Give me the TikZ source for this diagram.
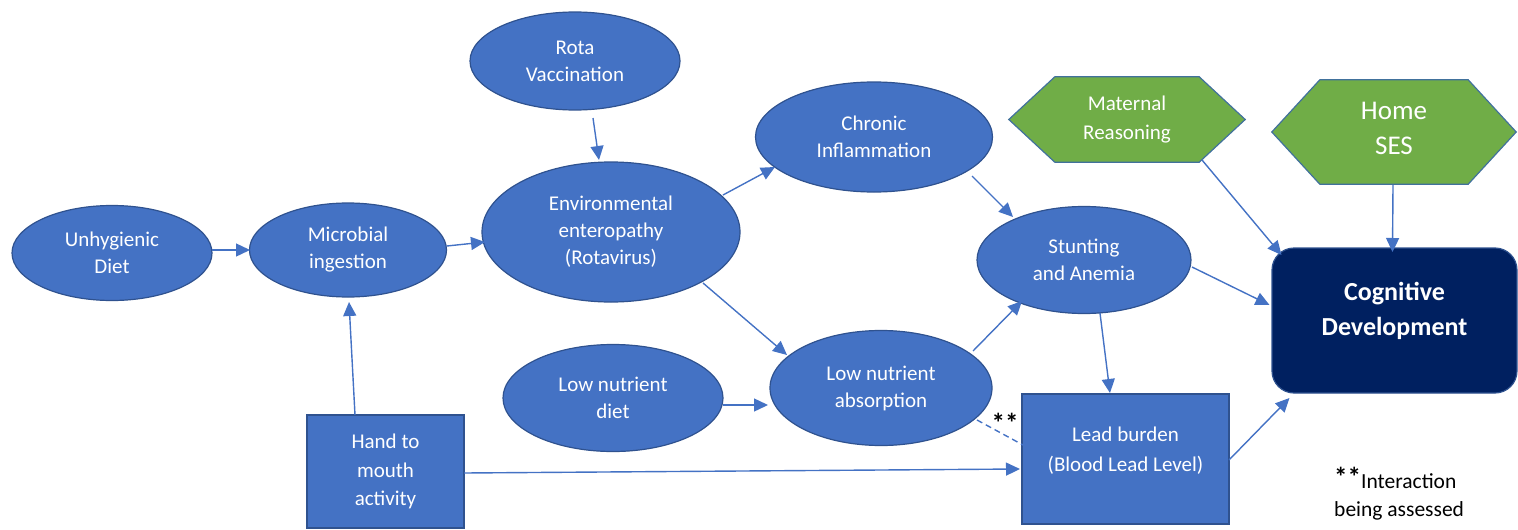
\documentclass[tikz,border=0pt]{standalone}
\usepackage{fontspec}
\setmainfont{Carlito}
\usetikzlibrary{shapes.geometric,arrows.meta,calc,backgrounds}
\definecolor{eblue}{HTML}{4472C4}
\definecolor{eborder}{HTML}{2F528F}
\definecolor{hgreen}{HTML}{70AD47}
\definecolor{hborder}{HTML}{41719C}
\definecolor{navy}{HTML}{002060}
\definecolor{lineblue}{HTML}{4472C4}
\begin{document}
\begin{tikzpicture}[x=1pt,y=-1pt,
  ell/.style={ellipse, draw=eborder, line width=1.2pt, fill=eblue, text=white,
    inner sep=0pt, align=center, font=\fontsize{21}{27}\selectfont},
  boxnode/.style={rectangle, draw=eborder, line width=2.2pt, fill=eblue, text=white,
    inner sep=0pt, align=center, font=\fontsize{21}{28.5}\selectfont},
  hextext/.style={rectangle, inner sep=0pt, text=white, align=center},
  hexfill/.style={fill=hgreen, draw=hborder, line width=1.2pt},
  arr/.style={draw=lineblue, line width=1.4pt, -{Triangle[length=14pt,width=13pt]}},
  dashline/.style={draw=lineblue, line width=1.4pt, dash pattern=on 6pt off 4pt},
  plain/.style={inner sep=0pt, text=black}
]
\useasboundingbox (0,0) rectangle (1518,530);

% ellipses
\node[ell, minimum width=200pt, minimum height=95pt] (unh) at (112,253) {Unhygienic\\Diet};
\node[ell, minimum width=197pt, minimum height=94pt] (mic) at (348,250) {Microbial\\ingestion};
\node[ell, minimum width=210pt, minimum height=98pt] (rota) at (575,61) {Rota\\Vaccination};
\node[ell, minimum width=258pt, minimum height=140pt] (env) at (611,232) {Environmental\\enteropathy\\(Rotavirus)};
\node[ell, minimum width=237pt, minimum height=110pt] (chr) at (874,137) {Chronic\\Inflammation};
\node[ell, minimum width=214pt, minimum height=107pt] (stu) at (1084,260) {Stunting\\and Anemia};
\node[ell, minimum width=220pt, minimum height=107pt] (lnd) at (613,398) {Low nutrient\\diet};
\node[ell, minimum width=222pt, minimum height=115pt] (lna) at (881,388) {Low nutrient\\absorption};

% boxes
\node[boxnode, minimum width=157pt, minimum height=113pt] (hand) at (385.5,471.5) {Hand to\\mouth\\activity};
\node[boxnode, minimum width=207pt, minimum height=130pt] (lead) at (1125.5,459) {};
\node[hextext, font=\fontsize{21}{30}\selectfont] (leadt) at ($(lead)+(0,-8)$) {Lead burden\\(Blood Lead Level)};

% hexagons
\node[hextext, minimum width=236pt, minimum height=85pt, font=\fontsize{21}{29}\selectfont] (mat) at (1127,119.5) {Maternal\\Reasoning};
\node[hextext, minimum width=244pt, minimum height=104pt] (home) at (1394,132) {};
\node[hextext, font=\fontsize{27}{35}\selectfont] (homet) at ($(home)+(0,-4)$) {Home\\SES};
\begin{scope}[on background layer]
\path[hexfill] (mat.west) -- ($(mat.north west)+(46,0)$) -- ($(mat.north east)+(-46,0)$) -- (mat.east)
  -- ($(mat.south east)+(-46,0)$) -- ($(mat.south west)+(46,0)$) -- cycle;
\path[hexfill] (home.west) -- ($(home.north west)+(48,0)$) -- ($(home.north east)+(-48,0)$) -- (home.east)
  -- ($(home.south east)+(-48,0)$) -- ($(home.south west)+(48,0)$) -- cycle;
\end{scope}

% cognitive development
\node[rectangle, rounded corners=22pt, draw=eborder, line width=1.2pt, fill=navy,
  minimum width=245pt, minimum height=145pt] (cog) at (1394.5,320.5) {};
\node[hextext, font=\bfseries\fontsize{26}{35}\selectfont] (cogt) at ($(cog)+(0,-10)$) {Cognitive\\Development};

% connectors
\draw[arr] ($(unh)+(100,-3)$) -- ($(mic)+(-98,0)$);
\draw[arr] ($(mic)+(99,-4)$) -- ($(env)+(-126,10)$);
\draw[arr] ($(rota)+(18,57)$) -- ($(env)+(-12,-72)$);
\draw[arr] ($(env)+(112,-37)$) -- ($(chr)+(-99,30)$);
\draw[arr] ($(env)+(92,51)$) -- ($(lna)+(-94,-33)$);
\draw[arr] ($(lnd)+(110,7)$) -- ($(lna)+(-113,17)$);
\draw[arr] ($(hand)+(-30.5,-56.5)$) -- ($(mic)+(1,52)$);
\draw[arr] ($(hand)+(78.5,1.5)$) -- ($(lead)+(-105.5,10)$);
\draw[arr] ($(chr)+(98,39)$) -- ($(stu)+(-71,-43)$);
\draw[arr] ($(lna)+(92,-37)$) -- ($(stu)+(-62,41)$);
\draw[arr] ($(stu)+(16,53)$) -- ($(lead)+(-15.5,-66)$);
\draw[arr] ($(stu)+(108,7)$) -- ($(cog)+(-125,-15.5)$);
\draw[arr] ($(mat)+(75,40.5)$) -- ($(cog)+(-113,-65.5)$);
\draw[arr] ($(home)+(-1,53)$) -- ($(cog)+(-2,-68.5)$);
\draw[arr] ($(lead)+(103.5,1)$) -- ($(cog)+(-105,77.5)$);
\draw[dashline] ($(lna)+(96,32)$) -- ($(lead)+(-102.5,-14)$);

% notes
\node[plain, font=\bfseries\fontsize{27}{27}\selectfont] (star) at (1005,423) {**};
\node[plain, anchor=base west, align=left, font=\fontsize{21.5}{28}\selectfont] (note) at (1334,516)
  {\raisebox{2pt}{\bfseries\fontsize{27}{27}\selectfont**}Interaction\\being assessed};
\end{tikzpicture}
\end{document}
